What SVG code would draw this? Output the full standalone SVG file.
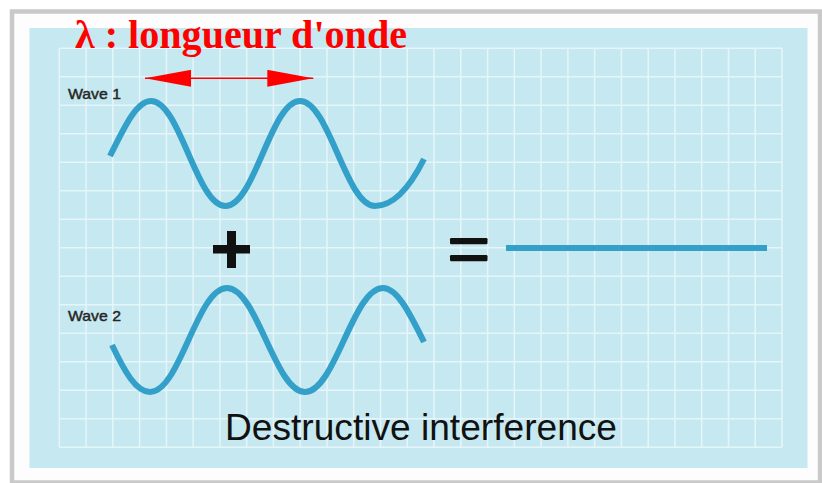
<svg xmlns="http://www.w3.org/2000/svg" width="822" height="483" viewBox="0 0 822 483">
  <style>
    .wave { fill: none; stroke: #33a0c9; stroke-width: 6; stroke-linecap: butt; stroke-linejoin: round; }
    .label { font-family: "Liberation Sans", Arial, sans-serif; fill: #262626; stroke: #262626; stroke-width: 0.45; }
    .grid { fill: none; stroke: #e6f5f9; stroke-width: 1.5; }
    .sym { fill: #111111; }
  </style>
  <defs>
    <marker id="head" markerUnits="userSpaceOnUse" markerWidth="46" markerHeight="17" refX="46" refY="8.5" orient="auto-start-reverse" viewBox="0 0 46 17">
      <path d="M0,0 L46,8.5 L0,17 Z" fill="#ff0000"/>
    </marker>
  </defs>

  <!-- background frame -->
  <rect x="0" y="0" width="822" height="483" fill="#ffffff"/>
  <rect x="12" y="11.5" width="808" height="471" fill="#fdfdfd" stroke="#c9c9c9" stroke-width="4.5"/>
  <rect x="29.5" y="28" width="778" height="440" fill="#c6e8f0"/>

  <!-- grid -->
  <path class="grid" d="M59.3,48.3V447.3 M86.1,48.3V447.3 M112.8,48.3V447.3 M139.6,48.3V447.3 M166.4,48.3V447.3 M193.1,48.3V447.3 M219.9,48.3V447.3 M246.7,48.3V447.3 M273.4,48.3V447.3 M300.2,48.3V447.3 M327,48.3V447.3 M353.7,48.3V447.3 M380.5,48.3V447.3 M407.3,48.3V447.3 M434,48.3V447.3 M460.8,48.3V447.3 M487.6,48.3V447.3 M514.3,48.3V447.3 M541.1,48.3V447.3 M567.9,48.3V447.3 M594.6,48.3V447.3 M621.4,48.3V447.3 M648.2,48.3V447.3 M674.9,48.3V447.3 M701.7,48.3V447.3 M728.5,48.3V447.3 M755.2,48.3V447.3 M782,48.3V447.3
    M59.3,48.3H782 M59.3,76.8H782 M59.3,105.3H782 M59.3,133.8H782 M59.3,162.3H782 M59.3,190.8H782 M59.3,219.3H782 M59.3,247.8H782 M59.3,276.3H782 M59.3,304.8H782 M59.3,333.3H782 M59.3,361.8H782 M59.3,390.3H782 M59.3,418.8H782 M59.3,447.3H782"/>

  <!-- title -->
  <g id="title">
    <text x="75" y="48" font-family="'Liberation Serif', 'Times New Roman', serif" font-weight="bold" font-size="39" fill="#ff0000" textLength="332" lengthAdjust="spacingAndGlyphs">λ : longueur d'onde</text>
  </g>

  <!-- wave 1 -->
  <g id="wave1">
    <text class="label" x="68" y="99" font-size="15" textLength="53" lengthAdjust="spacingAndGlyphs">Wave 1</text>
    <path class="wave" d="M110,156 C123.7,128.6 136,101 151,101 C180,101 196.5,206 225.5,206 C254.5,206 271,101 300,101 C329,101 346,206 375,206 C391.3,206 407.7,191.6 424,159"/>
  </g>

  <!-- plus -->
  <g id="plus">
    <rect class="sym" x="227" y="231" width="9" height="37"/>
    <rect class="sym" x="213" y="245" width="37" height="8.5"/>
  </g>

  <!-- wave 2 -->
  <g id="wave2">
    <text class="label" x="68" y="320.5" font-size="15" textLength="53" lengthAdjust="spacingAndGlyphs">Wave 2</text>
    <path class="wave" d="M112,345 C124.7,371.7 136,392 150,392 C180,392 197,288 227,288 C257,288 275,392 305,392 C335,392 353,288 383,288 C397.5,288 410.3,314.6 424,342"/>
  </g>

  <!-- equals -->
  <g id="equals">
    <rect class="sym" x="450" y="238" width="37.5" height="6.3" rx="1.2"/>
    <rect class="sym" x="450" y="255" width="37.5" height="6.3" rx="1.2"/>
  </g>

  <!-- result -->
  <g id="result">
    <line x1="506" y1="248" x2="767" y2="248" stroke="#33a0c9" stroke-width="5.8"/>
  </g>

  <!-- caption -->
  <g id="caption">
    <text x="225" y="440" font-family="'Liberation Sans', Arial, sans-serif" font-size="37" fill="#111111" textLength="392" lengthAdjust="spacingAndGlyphs">Destructive interference</text>
  </g>

  <!-- connectors -->
  <g id="connectors">
    <line x1="145" y1="78.3" x2="313.3" y2="78.3" stroke="#ff0000" stroke-width="1.5" marker-start="url(#head)" marker-end="url(#head)"/>
  </g>
</svg>
